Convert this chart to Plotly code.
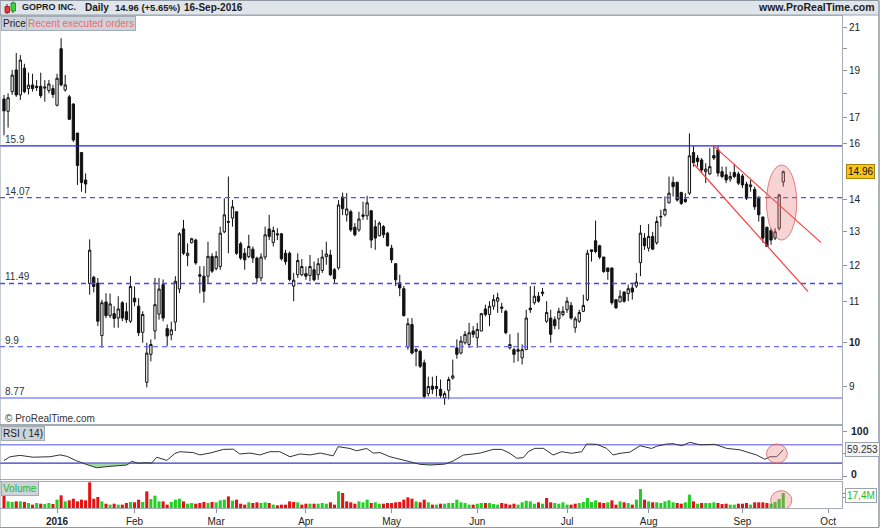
import math
import plotly.graph_objects as go

W, H = 880, 528
PLOT_W = 842

OPEN = [17.76, 17.25, 18.07, 19.02, 17.93, 19.10, 18.20, 18.36, 18.30, 18.30, 18.22, 18.12, 18.20, 17.50, 20.00, 18.14, 17.85, 17.55, 16.39, 15.65, 14.67,
        11.49, 11.66, 11.50, 10.16, 11.00, 10.65, 10.70, 10.59, 10.98, 10.75, 10.51, 11.10, 10.89, 10.24, 9.10, 9.72, 10.27, 10.69, 11.46, 10.33,
        10.18, 10.49, 11.34, 13.07, 12.27, 12.65, 12.73, 11.73, 11.69, 11.69, 12.25, 11.90, 11.96, 12.98, 13.30, 13.41, 13.61, 12.62, 12.34, 12.24,
        12.46, 12.20, 11.64, 12.23, 13.07, 12.66, 12.92, 12.92, 12.34, 12.34, 11.42, 11.73, 11.73, 11.76, 11.71, 11.87, 11.73, 11.85, 12.24, 12.29,
        11.87, 11.92, 14.09, 13.51, 13.61, 13.12, 13.04, 13.46, 13.48, 13.64, 13.14, 12.86, 13.14, 12.94, 12.49, 12.04, 11.51, 11.35, 9.89, 10.43,
        9.83, 9.79, 9.53, 8.86, 9.02, 9.01, 8.95, 8.77, 8.93, 9.19, 9.87, 9.75, 9.99, 9.95, 10.27, 10.11, 10.27, 10.82, 10.68, 10.89,
        11.02, 10.87, 10.76, 9.87, 9.83, 9.79, 9.64, 9.83, 10.84, 10.98, 11.15, 11.22, 10.51, 10.59, 10.55, 10.57, 10.68, 10.80, 10.91, 10.35,
        10.51, 10.76, 11.06, 12.44, 12.71, 12.56, 12.23, 11.92, 11.92, 11.06, 11.00, 11.26, 11.22, 11.37, 11.42, 12.07, 12.79, 12.49, 12.84, 12.65,
        13.44, 13.51, 13.90, 14.59, 14.59, 14.24, 14.02, 14.22, 15.65, 15.45, 15.38, 14.96, 14.88, 15.54, 15.75, 14.96, 14.85, 14.70, 14.93, 14.88,
        14.81, 14.53, 14.44, 14.35, 14.05, 13.44, 13.12, 13.02, 12.79, 13.09, 14.60]
HIGH = [17.93, 18.00, 19.02, 19.80, 19.70, 19.30, 18.90, 18.85, 18.57, 18.90, 18.57, 18.57, 18.36, 18.85, 20.50, 18.80, 17.93, 17.58, 16.39, 15.65, 14.90,
        12.75, 11.70, 11.64, 11.06, 11.23, 11.22, 10.89, 11.15, 11.02, 10.98, 11.69, 11.41, 11.10, 10.76, 9.99, 10.07, 11.64, 11.64, 11.60, 10.43,
        10.50, 11.69, 12.97, 13.35, 12.63, 12.80, 12.77, 11.97, 11.97, 12.68, 12.34, 12.40, 13.14, 14.05, 14.79, 13.99, 13.61, 12.68, 12.49, 12.89,
        12.54, 12.24, 12.34, 13.14, 13.51, 13.14, 13.09, 12.94, 12.44, 12.39, 11.78, 12.34, 12.17, 11.96, 12.29, 12.10, 12.20, 12.44, 12.68, 12.44,
        11.92, 13.99, 14.24, 14.22, 13.67, 13.25, 13.61, 13.94, 14.13, 13.67, 13.35, 13.30, 13.19, 12.98, 12.59, 12.06, 11.73, 11.42, 10.59, 10.59,
        9.87, 9.83, 9.60, 9.22, 9.22, 9.24, 9.16, 8.91, 9.22, 9.60, 10.07, 10.15, 10.27, 10.47, 10.39, 10.47, 10.72, 10.93, 11.02, 11.19,
        11.24, 10.98, 10.80, 10.19, 9.87, 10.23, 9.95, 10.80, 11.42, 11.42, 11.26, 11.37, 11.02, 10.80, 10.63, 10.85, 10.89, 11.13, 11.00, 10.63,
        10.80, 11.19, 12.44, 12.44, 13.33, 12.59, 12.24, 11.92, 11.92, 11.06, 11.31, 11.28, 11.46, 11.51, 11.78, 13.19, 12.94, 13.22, 12.98, 13.46,
        13.67, 14.11, 14.79, 14.79, 14.61, 14.27, 14.22, 16.38, 15.89, 15.56, 15.45, 15.26, 15.81, 15.89, 15.89, 15.14, 15.14, 14.96, 15.24, 14.96,
        14.88, 14.61, 14.67, 14.44, 14.13, 13.46, 13.14, 13.09, 13.09, 14.20, 15.00]
LOW = [16.30, 16.60, 17.93, 17.85, 17.72, 18.00, 17.95, 18.07, 18.10, 17.80, 17.65, 18.00, 17.80, 17.45, 18.30, 18.07, 16.90, 16.05, 14.50, 14.27, 14.22,
       11.19, 11.25, 10.39, 9.87, 10.59, 10.59, 10.35, 10.35, 10.51, 10.47, 10.47, 10.89, 10.15, 9.99, 8.99, 9.56, 10.07, 10.55, 10.51, 9.91,
       10.05, 10.27, 11.23, 12.29, 11.97, 12.63, 12.01, 11.23, 10.98, 11.50, 11.78, 11.85, 11.87, 12.94, 12.34, 13.14, 12.29, 12.15, 11.87, 12.20,
       12.06, 11.51, 11.55, 12.15, 12.73, 12.54, 12.73, 12.13, 12.01, 11.55, 11.02, 11.64, 11.69, 11.59, 11.55, 11.55, 11.59, 11.78, 12.01, 11.69,
       11.51, 11.87, 13.50, 13.30, 12.98, 12.84, 12.98, 13.35, 13.35, 12.49, 12.44, 12.84, 12.79, 12.54, 12.06, 11.42, 11.15, 10.63, 9.83, 9.72,
       9.45, 9.41, 8.76, 8.80, 8.85, 8.80, 8.77, 8.63, 8.74, 9.16, 9.62, 9.72, 9.95, 9.87, 10.11, 9.87, 10.27, 10.63, 10.39, 10.80,
       10.72, 10.72, 10.19, 9.83, 9.53, 9.56, 9.49, 9.83, 10.72, 10.93, 10.98, 11.15, 10.47, 9.99, 10.31, 10.31, 10.63, 10.72, 10.55, 10.23,
       10.47, 10.74, 11.02, 12.10, 12.34, 12.17, 11.78, 11.59, 10.93, 10.82, 11.00, 10.98, 11.02, 11.06, 11.37, 11.69, 12.44, 12.39, 12.44, 12.59,
       13.14, 13.46, 13.88, 14.11, 13.94, 13.83, 13.90, 14.16, 15.14, 15.14, 14.91, 14.56, 14.85, 15.38, 14.79, 14.73, 14.56, 14.61, 14.73, 14.50,
       14.39, 13.99, 14.27, 13.67, 13.30, 12.65, 12.52, 12.59, 12.73, 13.02, 14.44]
CLOSE = [17.27, 17.81, 18.79, 17.93, 19.47, 18.07, 18.35, 18.20, 18.25, 17.90, 18.27, 18.40, 17.95, 18.65, 18.36, 18.36, 16.93, 16.12, 15.18, 14.58, 14.53,
         12.43, 11.41, 10.51, 10.98, 10.65, 10.95, 10.58, 10.82, 10.59, 10.55, 11.41, 11.00, 10.23, 10.68, 9.75, 9.95, 10.93, 11.34, 10.59, 10.15,
         10.30, 11.55, 12.92, 12.34, 12.34, 12.77, 12.06, 11.69, 11.28, 12.25, 11.83, 12.25, 12.94, 13.51, 13.28, 13.77, 12.34, 12.20, 12.15, 12.54,
         12.20, 11.64, 12.23, 12.89, 12.84, 13.02, 12.89, 12.18, 12.10, 11.60, 11.58, 12.13, 11.96, 11.69, 11.96, 11.59, 12.04, 12.23, 12.32, 11.73,
         11.62, 13.83, 13.71, 13.70, 13.04, 12.89, 13.38, 13.51, 13.90, 12.73, 12.79, 13.25, 12.89, 12.56, 12.15, 11.59, 11.37, 10.65, 10.45, 9.75,
         9.79, 9.45, 8.80, 9.01, 8.95, 8.97, 8.82, 8.86, 9.16, 9.24, 9.72, 10.03, 10.19, 10.23, 10.19, 10.31, 10.70, 10.68, 10.89, 11.06,
         11.11, 10.84, 10.23, 9.95, 9.72, 9.83, 9.83, 10.59, 10.80, 11.15, 11.02, 11.26, 10.73, 10.19, 10.40, 10.76, 10.76, 11.02, 10.59, 10.57,
         10.73, 10.91, 12.34, 12.39, 12.39, 12.23, 11.82, 11.82, 10.98, 10.85, 11.15, 11.02, 11.35, 11.26, 11.53, 12.94, 12.56, 12.84, 12.46, 13.30,
         13.46, 13.69, 14.22, 14.44, 13.99, 13.88, 13.94, 15.53, 15.28, 15.32, 15.02, 15.05, 15.14, 15.45, 14.91, 14.79, 14.67, 14.79, 14.79, 14.56,
         14.50, 14.05, 14.50, 13.77, 13.51, 12.79, 12.54, 12.73, 12.98, 14.16, 14.96]
VOLUME_M = [16.6, 7.7, 7.0, 7.7, 7.7, 7.0, 5.8, 3.9, 5.8, 5.0, 4.6, 5.8, 4.6, 9.7, 14.7, 7.7, 8.9, 10.8, 7.7, 9.7, 8.9,
            29.8, 10.8, 12.8, 7.7, 5.0, 3.9, 5.0, 3.9, 3.9, 5.8, 7.0, 6.6, 9.7, 7.0, 19.3, 10.4, 14.3, 7.7, 7.7, 3.9,
            7.0, 9.7, 10.8, 7.7, 5.0, 5.8, 5.0, 5.8, 7.0, 5.8, 7.0,
            6.6, 8.9, 9.7, 13.5, 8.5, 9.7, 5.0, 3.9, 6.6, 5.8, 6.6, 5.8, 6.6, 5.8, 3.9, 3.1, 3.9, 3.9, 7.7, 7.0, 6.6, 3.9,
            5.0, 5.0, 5.0, 5.0, 5.8, 5.0, 6.6, 3.9, 19.3, 17.4, 7.7, 6.6, 5.0, 7.7, 6.6, 9.7, 5.8, 6.6, 5.0, 5.0, 5.8, 5.8,
            6.6, 7.0, 9.7, 12.4, 10.8, 7.7, 6.6, 9.7,
            6.6, 3.9, 3.9, 5.0, 5.0, 5.8, 5.8, 9.7, 6.6, 5.8, 3.9, 3.9, 5.0, 5.8, 5.8, 5.8, 4.6, 3.9, 5.8, 5.0, 3.9, 5.0,
            3.9, 6.6, 8.5, 7.7, 5.0, 6.6, 5.0, 11.6, 6.6, 5.8, 5.0, 6.6, 3.9, 3.9, 5.0, 5.8, 7.0, 11.6, 7.0, 8.9, 6.6, 5.8,
            6.6, 8.9, 3.9, 7.7, 6.6, 5.8, 3.9,
            9.7, 22.0, 9.7, 7.7, 6.6, 6.6, 5.8, 7.7, 8.9, 6.6, 5.8, 5.0, 6.6, 15.5, 7.7, 5.0, 5.8, 5.8, 5.8, 6.6, 5.8, 4.6,
            5.0, 3.9, 3.9, 5.0, 5.0, 5.8, 3.9, 6.6, 6.6, 6.6, 5.8, 5.0, 7.0, 10.4, 17.4]
RSI_X = [0, 1.5, 3.9, 7.1, 11.3, 13.7, 15.4, 17.8, 20.3, 22.7, 25.2, 27.6, 30.1, 31.3, 32.9, 35, 36.2, 37.4, 39.9, 41.9,
         43.1, 46.4, 48, 50.5, 53.8, 56.2, 57.8, 60.3, 62.7, 65.2, 67.6, 70.1, 72.5, 75, 77.5, 79.1, 80.7, 81.9, 84.8, 86.4,
         88.9, 90.5, 92.2, 94.6, 97.1, 99.5, 102, 104.4, 108.1, 110.1, 112.6, 115, 116.7, 119.9, 122, 124, 125.7, 127.3, 128.5, 130.1,
         132.2, 134.6, 136.7, 139.1, 141.6, 142.8, 145.3, 147.7, 149.3, 151, 153.4, 155.9, 157.1, 158.7, 160, 162.4, 164, 166.1, 168.1, 170.6,
         174.3, 177.1, 180.4, 182.8, 184.5, 186.5, 187.7, 189.4, 191]
RSI_V = [36, 44, 47, 43, 44, 48, 45, 35, 27, 20, 22.5, 24, 26, 34, 30, 31, 30, 43, 36, 51,
         55, 53, 48, 52, 60, 60.5, 50, 52, 48, 55, 55, 44, 50, 48, 52, 49, 46, 66, 62, 57,
         62, 52, 53, 44, 38.4, 32, 27.5, 26, 28, 34.8, 47.8, 50, 52, 60, 60, 51.5, 40.6, 42, 55, 62.3,
         62.3, 47.8, 55, 51.5, 55, 71.7, 71, 62.3, 47.8, 51.5, 54, 68, 66, 62, 67, 71.7, 72.5, 68, 75.4, 70,
         71, 62.3, 59, 51.5, 47.8, 38.4, 44, 44, 59.253]
LEVELS = [15.9, 14.07, 11.49, 9.9, 8.77]
LEVEL_LABELS = ["15.9", "14.07", "11.49", "9.9", "8.77"]
RSI_LEVELS = [70, 30]
MONTH_TICK_IDX = [13, 32, 52, 74, 95, 116, 138, 158, 181, 202]
MONTH_TICK_TEXT = ["<b>2016</b>", "Feb", "Mar", "Apr", "May", "Jun", "Jul", "Aug", "Sep", "Oct"]
PRICE_TICKS = [9, 10, 11, 12, 13, 14, 16, 17, 18, 19, 20, 21]
PRICE_TICK_TEXT = ["9", "<b>10</b>", "11", "12", "13", "14", "16", "17", "", "19", "", "21"]
TREND_UP_X = [174.0, 200.2]
TREND_UP_Y = [15.89, 12.66]
TREND_LO_X = [168.9, 197.1]
TREND_LO_Y = [15.26, 11.27]
ELLIPSE_PRICE_X = [186.9, 194.3]
ELLIPSE_PRICE_Y = [12.73, 15.2]
ELLIPSE_RSI_X = [186.9, 192.0]
ELLIPSE_RSI_Y = [29.7, 71.8]
ELLIPSE_VOL_X = [187.9, 193.1]
ELLIPSE_VOL_Y = [-2.3, 20.1]
LAST_PRICE = 14.96
LAST_RSI = 59.253
LAST_VOL = 17.4
LAST_VOL_TEXT = "17,4M"

FONT = "Liberation Sans, Arial, sans-serif"
FRAME = "#a3acb5"


def px(x):
    return x / PLOT_W


def py(y):
    return 1 - y / H


idx = list(range(len(CLOSE)))
XR = [-0.98, 205.4]

vol_colors = []
for i, c in enumerate(CLOSE):
    if i == 0:
        vol_colors.append("#e01414")
    else:
        vol_colors.append("#22d022" if c >= CLOSE[i - 1] else "#e01414")

fig = go.Figure()

level_styles = [("#2020ff", "solid", 1.1), ("#4f4fff", "5px,4px", 1.3), ("#4646ff", "5px,4px", 1.3),
                ("#6c6cff", "5px,4px", 1.2), ("#5252ff", "solid", 1.1)]
for lv, (col, dash, w) in zip(LEVELS, level_styles):
    fig.add_trace(go.Scatter(x=XR, y=[lv, lv], mode="lines", line=dict(color=col, width=w, dash=dash),
                             xaxis="x", yaxis="y", hoverinfo="skip", showlegend=False))

fig.add_trace(go.Candlestick(
    x=idx, open=OPEN, high=HIGH, low=LOW, close=CLOSE,
    increasing=dict(line=dict(color="#111111", width=1), fillcolor="white"),
    decreasing=dict(line=dict(color="#111111", width=1), fillcolor="#111111"),
    whiskerwidth=0, xaxis="x", yaxis="y", hoverinfo="skip", showlegend=False))

for tx, ty in ((TREND_UP_X, TREND_UP_Y), (TREND_LO_X, TREND_LO_Y)):
    fig.add_trace(go.Scatter(x=tx, y=ty, mode="lines", line=dict(color="#ff3b3b", width=1.2),
                             xaxis="x", yaxis="y", hoverinfo="skip", showlegend=False))

# RSI panel
rsi_cols = ["#8c8cf5", "#3636c8"]
rsi_w = [1.6, 1.2]
for lv, col, w in zip(RSI_LEVELS, rsi_cols, rsi_w):
    fig.add_trace(go.Scatter(x=XR, y=[lv, lv], mode="lines", line=dict(color=col, width=w),
                             xaxis="x2", yaxis="y2", hoverinfo="skip", showlegend=False))
fig.add_trace(go.Scatter(x=RSI_X, y=[30] * len(RSI_X), mode="lines", line=dict(width=0),
                         xaxis="x2", yaxis="y2", hoverinfo="skip", showlegend=False))
fig.add_trace(go.Scatter(x=RSI_X, y=[min(v, 30) for v in RSI_V], mode="lines", line=dict(width=0),
                         fill="tonexty", fillcolor="rgba(110,200,110,0.65)",
                         xaxis="x2", yaxis="y2", hoverinfo="skip", showlegend=False))
fig.add_trace(go.Scatter(x=RSI_X, y=RSI_V, mode="lines", line=dict(color="#333333", width=1),
                         xaxis="x2", yaxis="y2", hoverinfo="skip", showlegend=False))

# Volume
fig.add_trace(go.Bar(x=idx, y=VOLUME_M, marker=dict(color=vol_colors, line=dict(width=0)),
                     xaxis="x3", yaxis="y3", hoverinfo="skip", showlegend=False))

axis_common = dict(showgrid=False, zeroline=False, showline=True, mirror=True, linecolor=FRAME,
                   linewidth=1, automargin=False, fixedrange=True)

fig.update_layout(
    template="none",
    width=W, height=H,
    margin=dict(l=0, r=W - PLOT_W, t=0, b=0),
    paper_bgcolor="white", plot_bgcolor="white",
    font=dict(family=FONT, size=10, color="#222222"),
    showlegend=False, bargap=0.25, boxgap=0.2, hovermode=False,
    xaxis=dict(domain=[0, 1], range=XR, anchor="y", showticklabels=False, ticks="",
               rangeslider=dict(visible=False), **axis_common),
    yaxis=dict(domain=[py(424), py(16)], type="log", range=[0.9163, 1.3345], side="right", anchor="x",
               tickvals=PRICE_TICKS, ticktext=PRICE_TICK_TEXT, ticks="outside", ticklen=4,
               tickcolor="#8a939c", tickfont=dict(size=10, color="#222"), **axis_common),
    xaxis2=dict(domain=[0, 1], range=XR, anchor="y2", matches="x", showticklabels=False, ticks="",
                **axis_common),
    yaxis2=dict(domain=[py(479), py(426)], range=[-4.5, 111], side="right", anchor="x2",
                tickvals=[0, 50, 100], showticklabels=False, ticks="outside", ticklen=4,
                tickcolor="#8a939c", **axis_common),
    xaxis3=dict(domain=[0, 1], range=XR, anchor="y3", matches="x", tickvals=MONTH_TICK_IDX,
                ticktext=MONTH_TICK_TEXT, ticks="outside", ticklen=4, tickcolor="#8a939c",
                tickfont=dict(size=10, color="#222"), **axis_common),
    yaxis3=dict(domain=[py(508), py(482)], range=[0, 30.2], side="right", anchor="x3",
                tickvals=[LAST_VOL, 12], showticklabels=False, ticks="outside", ticklen=4,
                tickcolor="#8a939c", **axis_common),
)

shapes = [
    dict(type="rect", xref="paper", yref="paper", x0=0, x1=px(879), y0=py(527.5), y1=py(0.5),
         line=dict(color="#8e98a2", width=1), fillcolor="rgba(0,0,0,0)", layer="above"),
    dict(type="rect", xref="paper", yref="paper", x0=0, x1=px(879), y0=py(15), y1=py(0.5),
         line=dict(color="#98a2ac", width=1), fillcolor="#dfe5eb", layer="below"),
    dict(type="line", xref="paper", yref="paper", x0=px(879), x1=px(879), y0=py(527), y1=py(15),
         line=dict(color="#8e98a2", width=1)),
    # header icon
    dict(type="line", xref="paper", yref="paper", x0=px(7), x1=px(7), y0=py(14), y1=py(4),
         line=dict(color="#333", width=1)),
    dict(type="rect", xref="paper", yref="paper", x0=px(5), x1=px(9.5), y0=py(12.5), y1=py(6.5),
         line=dict(color="#a01010", width=0.8), fillcolor="#e83a3a"),
    dict(type="line", xref="paper", yref="paper", x0=px(13), x1=px(13), y0=py(13), y1=py(1.5),
         line=dict(color="#333", width=1)),
    dict(type="rect", xref="paper", yref="paper", x0=px(11), x1=px(15.5), y0=py(11), y1=py(3),
         line=dict(color="#118811", width=0.8), fillcolor="#3fd23f"),
    # ellipses
    dict(type="circle", xref="x", yref="y", x0=ELLIPSE_PRICE_X[0], x1=ELLIPSE_PRICE_X[1],
         y0=ELLIPSE_PRICE_Y[0], y1=ELLIPSE_PRICE_Y[1],
         line=dict(color="rgba(215,90,90,0.75)", width=1), fillcolor="rgba(232,120,120,0.33)"),
    dict(type="circle", xref="x2", yref="y2", x0=ELLIPSE_RSI_X[0], x1=ELLIPSE_RSI_X[1],
         y0=ELLIPSE_RSI_Y[0], y1=ELLIPSE_RSI_Y[1],
         line=dict(color="rgba(215,90,90,0.75)", width=1), fillcolor="rgba(232,120,120,0.33)"),
    dict(type="circle", xref="x3", yref="y3", x0=ELLIPSE_VOL_X[0], x1=ELLIPSE_VOL_X[1],
         y0=ELLIPSE_VOL_Y[0], y1=ELLIPSE_VOL_Y[1],
         line=dict(color="rgba(215,90,90,0.75)", width=1), fillcolor="rgba(232,120,120,0.33)"),
]
fig.update_layout(shapes=shapes)

ann = []
hdr_y = py(7.5)
for text, xpix, size in (("GOPRO INC.", 20, 9), ("Daily", 83, 10), ("14.96 (+5.65%)", 113, 9.5),
                         ("16-Sep-2016", 182, 10)):
    ann.append(dict(text="<b>%s</b>" % text, x=px(xpix), y=hdr_y, xref="paper", yref="paper",
                    xanchor="left", yanchor="middle", showarrow=False,
                    font=dict(size=size, color="#1c1c1c", family=FONT)))
ann.append(dict(text="<b>www.ProRealTime.com</b>", x=px(877), y=hdr_y, xref="paper", yref="paper",
                xanchor="right", yanchor="middle", showarrow=False,
                font=dict(size=10.5, color="#1c1c1c", family=FONT)))

box = dict(xref="paper", yref="paper", xanchor="left", yanchor="middle", showarrow=False,
           bgcolor="#ccd3da", bordercolor="#a3acb5", borderwidth=1, borderpad=1)
ann.append(dict(text="Price", x=px(0.5), y=py(23.5), font=dict(size=10, color="#222"), **box))
ann.append(dict(text="Recent executed orders", x=px(26), y=py(23.5), font=dict(size=10, color="#f06a6a"), **box))
ann.append(dict(text="RSI ( 14)", x=px(0.5), y=py(433.5), font=dict(size=10, color="#222"), **box))
ann.append(dict(text="Volume", x=px(0.5), y=py(488), font=dict(size=10, color="#22bb22"), **box))

ann.append(dict(text="\u00a9 ProRealTime.com", x=px(3), y=py(418), xref="paper", yref="paper",
                xanchor="left", yanchor="middle", showarrow=False, font=dict(size=10, color="#333")))

for lv, lab in zip(LEVELS, LEVEL_LABELS):
    ann.append(dict(text=lab, x=px(3), y=math.log10(lv), xref="paper", yref="y",
                    xanchor="left", yanchor="bottom", yshift=-1, showarrow=False,
                    font=dict(size=10, color="#333")))

ann.append(dict(text="14.96", x=px(846), y=math.log10(LAST_PRICE), xref="paper", yref="y",
                xanchor="left", yanchor="middle", showarrow=False, bgcolor="#f6c51a",
                bordercolor="#a8820a", borderwidth=1, borderpad=1, font=dict(size=10, color="#111")))
ann.append(dict(text="<b>100</b>", x=px(849), y=100, xref="paper", yref="y2", xanchor="left",
                yanchor="middle", showarrow=False, font=dict(size=10.5, color="#222")))
ann.append(dict(text="<b>0</b>", x=px(849), y=0, xref="paper", yref="y2", xanchor="left",
                yanchor="middle", yshift=3, showarrow=False, font=dict(size=10.5, color="#222")))
ann.append(dict(text="%.3f" % LAST_RSI, x=px(845), y=LAST_RSI, xref="paper", yref="y2", xanchor="left",
                yanchor="middle", showarrow=False, bgcolor="#f4f4f4", bordercolor="#9aa3ac",
                borderwidth=1, borderpad=1, font=dict(size=10, color="#333")))
ann.append(dict(text=LAST_VOL_TEXT, x=px(845), y=LAST_VOL, xref="paper", yref="y3", xanchor="left",
                yanchor="middle", yshift=-2, showarrow=False, bgcolor="#ffffff", bordercolor="#9aa3ac",
                borderwidth=1, borderpad=1, font=dict(size=10, color="#22bb22")))
fig.update_layout(annotations=ann)

fig.write_html("out.html", config=dict(displayModeBar=False, staticPlot=True),
               post_script="document.body.style.margin='0px';document.body.style.padding='0px';")
